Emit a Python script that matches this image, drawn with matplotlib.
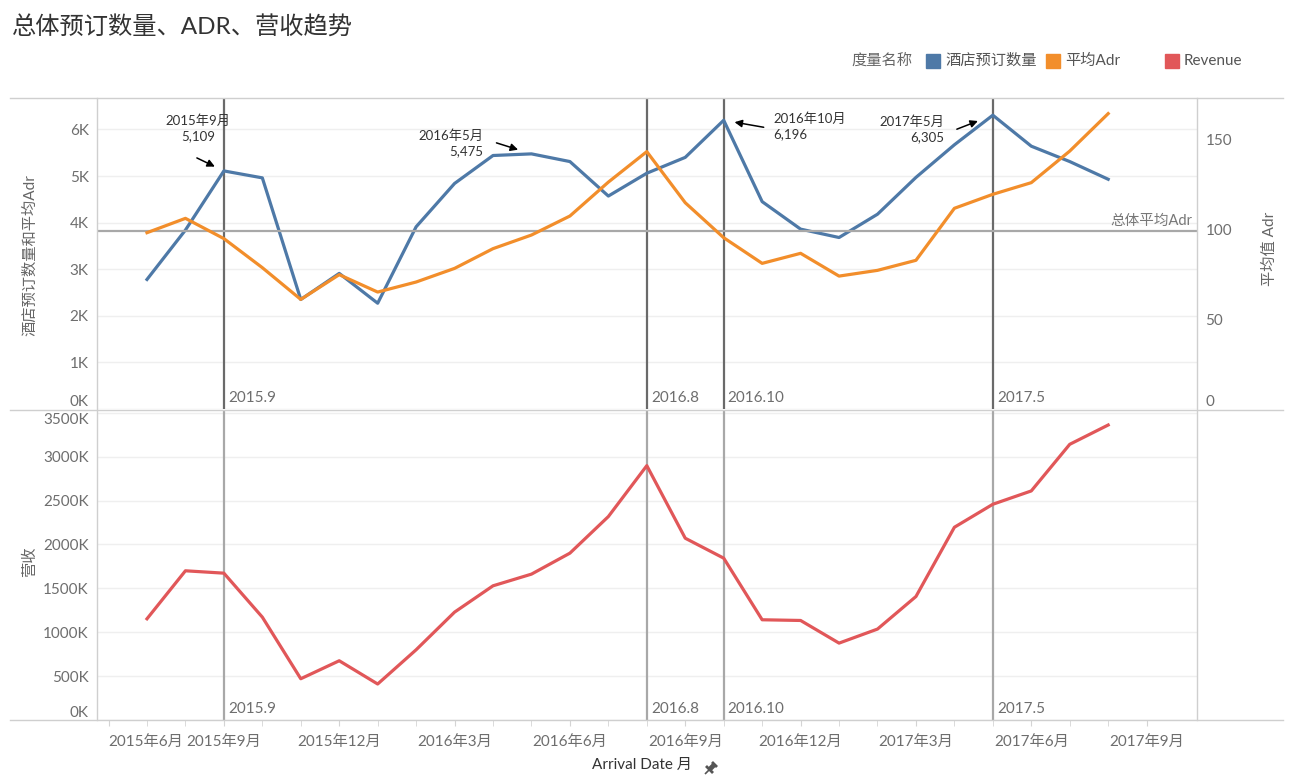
import matplotlib
matplotlib.use("Agg")
import matplotlib.pyplot as plt
from matplotlib.lines import Line2D
from matplotlib.patches import Rectangle
from matplotlib.ticker import FuncFormatter

plt.rcParams['font.family'] = ['Lato', 'Noto Sans CJK SC', 'DejaVu Sans']

# monthly data, 2015-07 .. 2017-08
months = ['2015-07', '2015-08', '2015-09', '2015-10', '2015-11', '2015-12',
          '2016-01', '2016-02', '2016-03', '2016-04', '2016-05', '2016-06',
          '2016-07', '2016-08', '2016-09', '2016-10', '2016-11', '2016-12',
          '2017-01', '2017-02', '2017-03', '2017-04', '2017-05', '2017-06',
          '2017-07', '2017-08']
bookings = [2780, 3840, 5109, 4960, 2350, 2910, 2270, 3910, 4840, 5440, 5475, 5310,
            4570, 5060, 5400, 6196, 4450, 3860, 3680, 4180, 4970, 5670, 6305, 5640,
            5310, 4930]
adr = [98.3, 106.3, 95.0, 78.8, 61.1, 74.9, 65.2, 70.8, 78.4, 89.4, 97.0, 107.6,
       126.5, 143.5, 115.0, 95.5, 81.2, 86.8, 74.1, 77.3, 82.9, 111.9, 119.7, 126.2,
       143.8, 164.7]
revenue = [1153, 1700, 1673, 1172, 470, 675, 410, 800, 1229, 1529, 1662, 1901,
           2318, 2898, 2071, 1844, 1142, 1134, 876, 1036, 1407, 2196, 2458, 2610,
           3141, 3361]  # in K
adr_avg = 99.4

ref_months = ['2015-09', '2016-08', '2016-10', '2017-05']
ref_labels = ['2015.9', '2016.8', '2016.10', '2017.5']

peak_months = ['2015-09', '2016-05', '2016-10', '2017-05']
peak_texts = ['2015年9月\n5,109', '2016年5月\n5,475', '2016年10月\n6,196', '2017年5月\n6,305']

tick_names = ['2015年6月', '2015年9月', '2015年12月', '2016年3月', '2016年6月',
              '2016年9月', '2016年12月', '2017年3月', '2017年6月', '2017年9月']

BLUE, ORANGE, RED = '#4e79a7', '#f28e2b', '#e15759'
W, H = 1298, 783

x = list(range(len(months)))
idx = {m: i for i, m in enumerate(months)}

fig = plt.figure(figsize=(W / 100, H / 100), dpi=100)
ax1 = fig.add_axes([97 / W, 1 - 409 / H, 1100 / W, 311 / H])
ax2 = fig.add_axes([97 / W, 1 - 720 / H, 1100 / W, 310 / H])
ax1r = ax1.twinx()

xlim = (-1.30, 27.31)

# top panel
ax1.plot(x, bookings, color=BLUE, lw=2.3, zorder=3)
ax1r.plot(x, adr, color=ORANGE, lw=2.3, zorder=3)
ax1.set_ylim(0, 6674)
ax1r.set_ylim(0, 173.4)
ax1.set_yticks(range(0, 7000, 1000))
ax1.yaxis.set_major_formatter(FuncFormatter(lambda v, p: f'{int(v / 1000)}K'))
ax1r.set_yticks([0, 50, 100, 150])

# bottom panel
ax2.plot(x, revenue, color=RED, lw=2.3, zorder=3)
ax2.set_ylim(0, 3532)
ax2.set_yticks(range(0, 4000, 500))
ax2.yaxis.set_major_formatter(FuncFormatter(lambda v, p: f'{int(v)}K'))

tick_pos = list(range(-1, 27, 3))
for ax in (ax1, ax1r, ax2):
    ax.set_xlim(*xlim)
    for s in ax.spines.values():
        s.set_visible(False)
    ax.tick_params(axis='y', length=0, labelsize=11, labelcolor='#6e6e6e', pad=6)
ax1.grid(axis='y', color='#efefef', lw=1)
ax2.grid(axis='y', color='#efefef', lw=1)
ax1.set_xticks([])
ax1r.set_xticks([])
ax2.set_xticks(tick_pos)
ax2.set_xticklabels(tick_names)
ax2.set_xticks(x + [-1, 26], minor=True)
ax2.tick_params(axis='x', which='both', length=4, color='#d4d4d4', labelsize=11,
                labelcolor='#6e6e6e', pad=7)
ax2.get_xticklabels()[0].set_ha('left')
ax2.get_xticklabels()[0].set_x(-1.45)

# keep edge labels inside their panel, as in the original
ax1.get_yticklabels()[0].set_va('bottom')
ax1r.get_yticklabels()[0].set_va('bottom')
ax2.get_yticklabels()[0].set_va('bottom')
ax2.get_yticklabels()[-1].set_va('top')

# reference lines
for m, lab in zip(ref_months, ref_labels):
    ax1.axvline(idx[m], color='#6a6a6a', lw=1.6, zorder=2)
    ax2.axvline(idx[m], color='#a8a8a8', lw=1.6, zorder=2)
    for ax in (ax1, ax2):
        ax.annotate(lab, xy=(idx[m], 0), xycoords=('data', 'axes fraction'),
                    xytext=(4, 4), textcoords='offset pixels', ha='left', va='bottom',
                    fontsize=11, color='#6e6e6e')

ax1r.axhline(adr_avg, color='#a8a8a8', lw=1.6, zorder=2)
ax1r.annotate('总体平均Adr', xy=(1, adr_avg), xycoords=('axes fraction', 'data'),
              xytext=(-5, 3), textcoords='offset pixels', ha='right', va='bottom',
              fontsize=10.5, color='#777777')

# peak annotations: text offset, text alignment, arrow tail offset, arrow gap (px)
ann_style = [((-26, 43), 'center', (-27, 13), 10),
             ((-48, 11), 'right', (-35, 11), 14),
             ((50, -6), 'left', (40, -7), 11),
             ((-49, -14), 'right', (-36, -14), 16)]
for m, txt, (toff, ha, aoff, gap) in zip(peak_months, peak_texts, ann_style):
    pt = (idx[m], bookings[idx[m]])
    ax1r.annotate(txt, xy=pt, xycoords=ax1.transData, xytext=toff,
                  textcoords='offset pixels', ha=ha, va='center', ma=ha,
                  fontsize=9.5, color='#333333', linespacing=1.35, zorder=5)
    ax1r.annotate('', xy=pt, xycoords=ax1.transData, xytext=aoff,
                  textcoords='offset pixels',
                  arrowprops=dict(arrowstyle='-|>', color='black', lw=1.1,
                                  shrinkA=0, shrinkB=gap * 0.72, mutation_scale=11),
                  zorder=5)

# frame lines like the dashboard
for yy in (98, 409.5, 720):
    fig.add_artist(Line2D([10 / W, 1283 / W], [1 - yy / H, 1 - yy / H],
                          color='#cfcfcf', lw=1))
for xx in (97, 1197):
    fig.add_artist(Line2D([xx / W, xx / W], [1 - 98 / H, 1 - 720 / H],
                          color='#cfcfcf', lw=1))

# texts
fig.text(12 / W, 1 - 27 / H, '总体预订数量、ADR、营收趋势', fontsize=17.5,
         color='#333333', va='center', ha='left')
fig.text(30 / W, 1 - 255 / H, '酒店预订数量和平均Adr', rotation=90, fontsize=11,
         color='#666666', ha='center', va='center')
fig.text(1270 / W, 1 - 249 / H, '平均值 Adr', rotation=90, fontsize=11,
         color='#666666', ha='center', va='center')
fig.text(30 / W, 1 - 562 / H, '营收', rotation=90, fontsize=11,
         color='#666666', ha='center', va='center')
fig.text(642 / W, 1 - 765 / H, 'Arrival Date 月', fontsize=11, color='#333333',
         ha='center', va='center')

# little pin icon after the axis title
def px(xp, yp):
    return [v / W for v in xp], [1 - v / H for v in yp]
for xs, ys, w in [((705, 710), (774, 769), 1.2), ((706, 713), (766, 773), 2.0),
                  ((709, 714), (770, 765), 3.5), ((712, 717), (762, 767), 2.0)]:
    fig.add_artist(Line2D(*px(xs, ys), color='#555555', lw=w, solid_capstyle='butt'))

# legend
fig.text(851 / W, 1 - 61 / H, '度量名称', fontsize=11, color='#666666', va='center')
for x0, col, lab in [(926, BLUE, '酒店预订数量'), (1046, ORANGE, '平均Adr'),
                     (1165, RED, 'Revenue')]:
    fig.add_artist(Rectangle((x0 / W, 1 - 68 / H), 14 / W, 14 / H,
                             color=col, transform=fig.transFigure))
    fig.text((x0 + 19) / W, 1 - 61 / H, lab, fontsize=11, color='#555555',
             va='center')

fig.savefig('out.png', dpi=100)
